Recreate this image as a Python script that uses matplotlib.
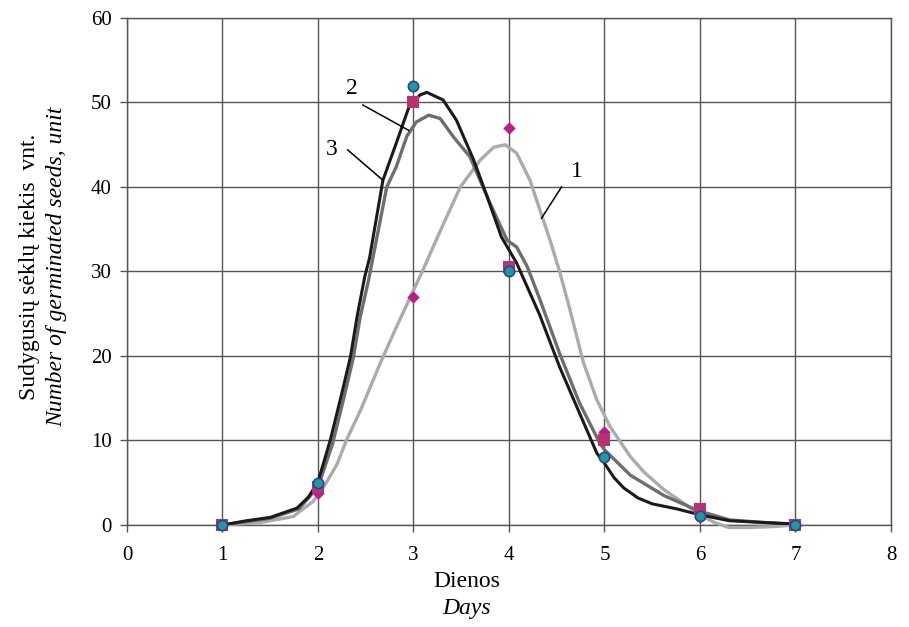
import matplotlib
matplotlib.use("Agg")
import matplotlib.pyplot as plt

plt.rcParams["font.family"] = ["Liberation Serif", "DejaVu Serif"]

# measured points
days = [1, 2, 3, 4, 5, 6, 7]
seeds_1 = [0, 3.8, 27, 47, 11, 1.0, 0]      # diamonds
seeds_2 = [0, 4.5, 50, 30.5, 10.1, 1.9, 0]  # squares
seeds_3 = [0, 5.0, 52, 30, 8, 1.1, 0]       # circles

# fitted curves
curve1_x = [1.0, 1.4, 1.74, 1.95, 2.06, 2.2, 2.3, 2.45, 2.65, 2.82, 2.96, 3.1, 3.28, 3.49,
            3.70, 3.84, 3.96, 4.08, 4.22, 4.32, 4.43, 4.53, 4.64, 4.78, 4.92, 5.06, 5.27,
            5.41, 5.62, 5.8, 6.0, 6.15, 6.3, 6.5, 6.75, 7.0]
curve1_y = [0, 0.3, 1.0, 2.8, 4.5, 7.2, 10.1, 13.7, 19.1, 23.4, 26.8, 30.2, 34.8, 40.0,
            43.2, 44.7, 45.0, 44.0, 40.8, 37.4, 33.7, 30.0, 25.4, 19.2, 14.8, 11.6, 8.1,
            6.3, 4.2, 2.8, 1.2, 0.3, -0.3, -0.3, -0.2, 0.0]

curve2_x = [1.0, 1.5, 1.8, 2.0, 2.15, 2.27, 2.37, 2.44, 2.53, 2.72, 2.82, 2.93, 3.03, 3.16,
            3.28, 3.42, 3.59, 3.80, 3.98, 4.08, 4.19, 4.32, 4.53, 4.74, 4.95, 5.0, 5.27,
            5.62, 5.98, 6.31, 6.66, 7.0]
curve2_y = [0, 0.8, 1.9, 4.5, 9.5, 15.0, 19.8, 24.5, 29.0, 40.0, 42.4, 46.0, 47.7, 48.5,
            48.1, 45.9, 43.6, 38.1, 33.7, 32.9, 30.6, 26.8, 20.3, 14.4, 9.7, 8.9, 5.9,
            3.5, 1.7, 0.6, 0.3, 0.1]

curve3_x = [1.0, 1.25, 1.5, 1.78, 1.9, 2.0, 2.13, 2.25, 2.34, 2.41, 2.49, 2.54, 2.68, 2.82,
            2.96, 3.07, 3.14, 3.31, 3.45, 3.63, 3.77, 3.92, 4.08, 4.32, 4.53, 4.74, 4.92,
            5.0, 5.1, 5.2, 5.35, 5.5, 5.76, 6.0, 6.31, 6.66, 7.0]
curve3_y = [0, 0.5, 0.9, 2.0, 3.3, 5.1, 10.1, 15.6, 19.9, 24.7, 29.4, 31.6, 40.8, 45.2,
            49.7, 50.9, 51.2, 50.3, 47.9, 43.2, 38.9, 34.1, 31.0, 24.9, 18.7, 13.2, 8.5,
            7.3, 5.6, 4.4, 3.2, 2.5, 1.9, 1.2, 0.5, 0.3, 0.1]

fig = plt.figure(figsize=(9.09, 6.27), dpi=100)
ax = fig.add_axes([0.1397, 0.1627, 0.8405, 0.8086])

ax.plot(curve1_x, curve1_y, color="#ababab", lw=2.4, zorder=3, clip_on=False,
        solid_joinstyle="round")
ax.plot(curve2_x, curve2_y, color="#6e6e6e", lw=2.4, zorder=4, solid_joinstyle="round")
ax.plot(curve3_x, curve3_y, color="#1a1a1a", lw=2.2, zorder=5, solid_joinstyle="round")

ax.scatter(days, seeds_1, marker="D", s=40, color="#c0188e", zorder=6, linewidths=0,
           clip_on=False)
ax.scatter(days, seeds_2, marker="s", s=70, color="#b8326f", zorder=7, linewidths=0,
           clip_on=False)
ax.scatter(days, seeds_3, marker="o", s=55, facecolor="#1b9c98", edgecolor="#2a3f9e",
           linewidths=1.2, zorder=8, clip_on=False)

# curve labels with leader lines
ax.text(4.71, 41.8, "1", fontsize=17, ha="center", va="center")
ax.plot([4.55, 4.34], [40.0, 36.3], color="black", lw=1.1, zorder=9)
ax.text(2.36, 51.7, "2", fontsize=17, ha="center", va="center")
ax.plot([2.47, 2.95], [49.7, 46.7], color="black", lw=1.1, zorder=9)
ax.text(2.14, 44.4, "3", fontsize=17, ha="center", va="center")
ax.plot([2.31, 2.68], [44.4, 40.8], color="black", lw=1.1, zorder=9)

ax.set_xlim(0, 8)
ax.set_ylim(0, 60)
ax.set_xticks(range(0, 9))
ax.set_yticks(range(0, 61, 10))
ax.grid(True, color="#555555", lw=1.0)
ax.set_axisbelow(True)
for sp in ax.spines.values():
    sp.set_color("#555555")
    sp.set_linewidth(1.0)
ax.tick_params(axis="both", labelsize=15, color="#555555", length=5, width=1.0)
ax.tick_params(axis="x", pad=10)
ax.tick_params(axis="y", pad=6)

fig.text(0.5138, 0.072, "Dienos", fontsize=17, ha="center", va="center")
fig.text(0.5138, 0.030, "Days", fontsize=17, ha="center", va="center", style="italic")
fig.text(0.033, 0.575, "Sudygusių sėklų kiekis  vnt.", fontsize=17, rotation=90,
         ha="center", va="center")
fig.text(0.062, 0.575, "Number of germinated seeds, unit", fontsize=17, rotation=90,
         ha="center", va="center", style="italic")

fig.savefig("out.png", dpi=100)
